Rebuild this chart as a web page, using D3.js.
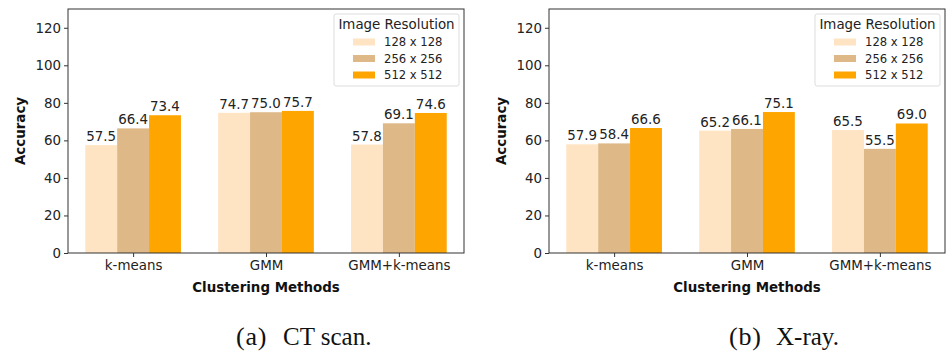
<!DOCTYPE html>
<html>
<head>
<meta charset="utf-8">
<script src="https://cdn.jsdelivr.net/npm/d3@7/dist/d3.min.js"></script>
<style>
  body { margin: 0; background: #fff; }
  svg { display: block; }
</style>
</head>
<body>
<svg id="chart" width="947" height="352"></svg>
<script>
// Clustering methods on the x axis
const methods = ["k-means", "GMM", "GMM+k-means"];
// Image resolutions (legend series)
const resolutions = ["128 x 128", "256 x 256", "512 x 512"];
const seriesColors = ["#FFE4C4", "#DEB887", "#FFA500"];
// Accuracy per resolution, one array per resolution, ordered like `methods`
const ct128 = [57.5, 74.7, 57.8];
const ct256 = [66.4, 75.0, 69.1];
const ct512 = [73.4, 75.7, 74.6];
const xr128 = [57.9, 65.2, 65.5];
const xr256 = [58.4, 66.1, 55.5];
const xr512 = [66.6, 75.1, 69.0];
const yTicks = [0, 20, 40, 60, 80, 100, 120];
const captionTags = ["(a)", "(b)"];
const captionTexts = ["CT scan.", "X-ray."];

const svg = d3.select("#chart");
const sans = "'DejaVu Sans', sans-serif";
const serif = "'Liberation Serif', serif";
const fs = 13.4;
const barW = 0.24;

function panel(ox, series, k) {
  const left = ox + 68, right = ox + 464, top = 9, bottom = 253;
  const x = d3.scaleLinear().domain([-0.49, 2.49]).range([left, right]);
  const y = d3.scaleLinear().domain([0, 130]).range([bottom, top]);
  const g = svg.append("g");

  // bars
  series.forEach((vals, s) => {
    g.selectAll(null).data(vals).enter().append("rect")
      .attr("x", (d, i) => x(i + (s - 1) * barW - barW / 2))
      .attr("width", x(barW) - x(0))
      .attr("y", d => y(d))
      .attr("height", d => y(0) - y(d))
      .attr("fill", seriesColors[s]);
    g.selectAll(null).data(vals).enter().append("text")
      .attr("x", (d, i) => x(i + (s - 1) * barW))
      .attr("y", d => y(d) - 4)
      .attr("text-anchor", "middle")
      .attr("font-family", sans).attr("font-size", fs)
      .attr("fill", "#222")
      .text(d => d.toFixed(1));
  });

  // axes
  const yAxis = d3.axisLeft(y).tickValues(yTicks).tickSize(4).tickPadding(3).tickFormat(d3.format("d"));
  const gy = g.append("g").attr("transform", `translate(${left},0)`).call(yAxis);
  const xAxis = d3.axisBottom(x).tickValues([0, 1, 2]).tickSize(4).tickPadding(3).tickFormat(i => methods[i]);
  const gx = g.append("g").attr("transform", `translate(0,${bottom})`).call(xAxis);
  [gy, gx].forEach(a => {
    a.select(".domain").remove();
    a.selectAll("line").attr("stroke", "#333");
    a.selectAll("text").attr("font-family", sans).attr("font-size", fs).attr("fill", "#222");
  });

  // frame
  g.append("rect").attr("x", left).attr("y", top)
    .attr("width", right - left).attr("height", bottom - top)
    .attr("fill", "none").attr("stroke", "#333").attr("stroke-width", 1);

  // axis titles
  g.append("text").attr("x", (left + right) / 2).attr("y", 292)
    .attr("text-anchor", "middle").attr("font-family", sans)
    .attr("font-weight", "bold").attr("font-size", fs).attr("fill", "#111")
    .text("Clustering Methods");
  g.append("text").attr("transform", `translate(${ox + 25},131) rotate(-90)`)
    .attr("text-anchor", "middle").attr("font-family", sans)
    .attr("font-weight", "bold").attr("font-size", fs).attr("fill", "#111")
    .text("Accuracy");

  // legend
  const lx = right - 130, ly = 14;
  const lg = g.append("g").attr("transform", `translate(${lx},${ly})`);
  lg.append("rect").attr("width", 125).attr("height", 72).attr("rx", 2)
    .attr("fill", "#fff").attr("fill-opacity", 0.8).attr("stroke", "#ddd");
  lg.append("text").attr("x", 62.5).attr("y", 15).attr("text-anchor", "middle")
    .attr("font-family", sans).attr("font-size", fs).attr("fill", "#222")
    .text("Image Resolution");
  resolutions.forEach((r, i) => {
    const ry = 28 + i * 16.5;
    lg.append("rect").attr("x", 19).attr("y", ry - 3.5).attr("width", 22).attr("height", 7)
      .attr("fill", seriesColors[i]);
    lg.append("text").attr("x", 50).attr("y", ry + 4.2)
      .attr("font-family", sans).attr("font-size", 11.6).attr("fill", "#222")
      .text(r);
  });

  // sub-figure caption
  const cx = ox + (k === 0 ? 236 : 248);
  svg.append("text").attr("x", cx).attr("y", 345)
    .attr("font-family", serif).attr("font-size", 26).attr("letter-spacing", 0.8)
    .attr("fill", "#111").text(captionTags[k]);
  svg.append("text").attr("x", cx + 47).attr("y", 345)
    .attr("font-family", serif).attr("font-size", 25)
    .attr("fill", "#111").text(captionTexts[k]);
}

panel(0, [ct128, ct256, ct512], 0);
panel(481, [xr128, xr256, xr512], 1);
</script>
</body>
</html>
